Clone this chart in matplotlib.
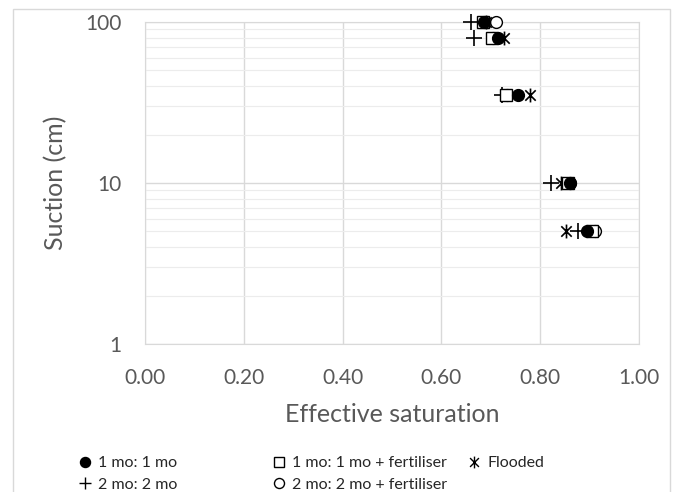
import matplotlib
matplotlib.use("Agg")
import matplotlib.pyplot as plt
from matplotlib.path import Path
from matplotlib.lines import Line2D
from matplotlib.patches import Rectangle
from matplotlib.ticker import FixedLocator, NullFormatter

plt.rcParams['font.family'] = ['Lato', 'DejaVu Sans']

suction = [100, 80, 35, 10, 5]
s_1mo = [0.687, 0.715, 0.756, 0.860, 0.895]
s_1mo_fert = [0.685, 0.703, 0.731, 0.857, 0.905]
s_flooded = [0.690, 0.727, 0.780, 0.842, 0.853]
s_2mo = [0.659, 0.665, 0.723, 0.822, 0.876]
s_2mo_fert = [0.711, 0.705, 0.733, 0.860, 0.911]

labels = ["1 mo: 1 mo", "2 mo: 2 mo", "1 mo: 1 mo + fertiliser",
          "2 mo: 2 mo + fertiliser", "Flooded"]
xticks = [0.0, 0.2, 0.4, 0.6, 0.8, 1.0]

star = Path([(0, -1), (0, 1), (-0.75, -0.75), (0.75, 0.75), (-0.75, 0.75), (0.75, -0.75)],
            [Path.MOVETO, Path.LINETO, Path.MOVETO, Path.LINETO, Path.MOVETO, Path.LINETO])

fig = plt.figure(figsize=(6.76, 4.92), dpi=100)
fig.add_artist(Rectangle((13/676, -0.1), (670-13)/676, 1.1 - 9/492, transform=fig.transFigure,
                         fill=False, edgecolor='#d9d9d9', linewidth=1))
ax = fig.add_axes([145/676, 1 - 344/492, (639-145)/676, (344-22)/492])

ms = 8.5
ax.plot(s_flooded, suction, linestyle='none', marker=star, markersize=10,
        markerfacecolor='none', markeredgecolor='black', markeredgewidth=1.2, label=labels[4],
        zorder=3, clip_on=False)
ax.plot(s_2mo, suction, linestyle='none', marker='+', markersize=11,
        markeredgecolor='black', markeredgewidth=1.2, label=labels[1], zorder=3, clip_on=False)
ax.plot(s_2mo_fert, suction, linestyle='none', marker='o', markersize=ms,
        markerfacecolor='white', markeredgecolor='black', markeredgewidth=1.0, label=labels[3],
        zorder=3, clip_on=False)
ax.plot(s_1mo_fert, suction, linestyle='none', marker='s', markersize=ms,
        markerfacecolor='white', markeredgecolor='black', markeredgewidth=1.0, label=labels[2],
        zorder=4, clip_on=False)
ax.plot(s_1mo, suction, linestyle='none', marker='o', markersize=ms,
        markerfacecolor='black', markeredgecolor='black', label=labels[0], zorder=5, clip_on=False)

ax.set_yscale('log')
ax.set_ylim(1, 100)
ax.set_xlim(0, 1)
ax.set_xticks(xticks)
ax.set_xticklabels([f"{v:.2f}" for v in xticks])
ax.set_yticks([1, 10, 100])
ax.set_yticklabels(["1", "10", "100"])
ax.yaxis.set_minor_locator(FixedLocator([m * d for d in (1, 10) for m in range(2, 10)]))
ax.yaxis.set_minor_formatter(NullFormatter())
ax.grid(True, which='major', color='#d9d9d9', linewidth=1)
ax.grid(True, which='minor', axis='y', color='#ececec', linewidth=0.8)
ax.set_axisbelow(True)
for sp in ax.spines.values():
    sp.set_color('#d9d9d9')
ax.tick_params(which='both', length=0, colors='#595959', labelsize=15)
ax.tick_params(axis='x', pad=17)
ax.tick_params(axis='y', pad=17)
ax.set_xlabel("Effective saturation", fontsize=18, color='#595959', labelpad=11)
ax.set_ylabel("Suction (cm)", fontsize=18, color='#595959', labelpad=13)

h = {l.get_label(): l for l in ax.get_lines()}
def mk(lbl):
    src = h[lbl]
    return Line2D([], [], linestyle='none', marker=src.get_marker(),
                  markersize=src.get_markersize() * 0.85,
                  markerfacecolor=src.get_markerfacecolor(),
                  markeredgecolor='black', markeredgewidth=1.0)

cols = [([labels[0], labels[1]], 79), ([labels[2], labels[3]], 273), ([labels[4]], 468)]
for labs, xpx in cols:
    fig.legend([mk(l) for l in labs], labs, loc='upper left',
               bbox_to_anchor=(xpx/676, 1 - 456/492), frameon=False,
               fontsize=11.5, handlelength=0.8, handletextpad=0.4,
               labelspacing=0.45, borderaxespad=0, borderpad=0,
               labelcolor='#262626')

fig.savefig("out.png", dpi=100)
